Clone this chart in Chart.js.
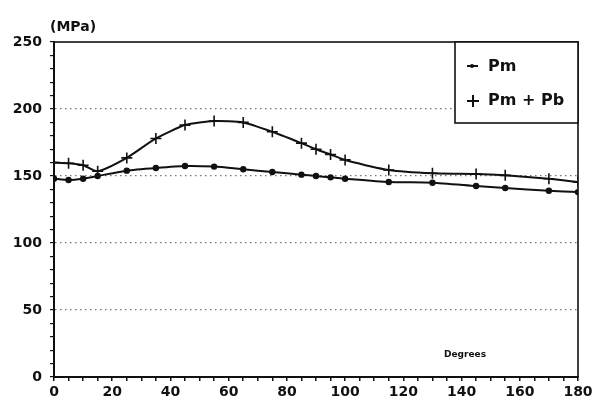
<!DOCTYPE html>
<html>
<head>
<meta charset="utf-8">
<script src="https://cdn.jsdelivr.net/npm/chart.js@4.4.1/dist/chart.umd.min.js"></script>
<style>
  html, body { margin: 0; padding: 0; background: #fff; }
  #grafico { width: 596px; height: 405px; }
</style>
</head>
<body>
<div id="grafico"><canvas id="line-chart" width="596" height="405"></canvas></div>
<script>
var Graus = [0, 5, 10, 15, 25, 35, 45, 55, 65, 75, 85, 90, 95, 100, 115, 130, 145, 155, 170, 180];
var Pm = [148, 147, 148, 150, 154, 156, 157.5, 157, 155, 153, 151, 150, 149, 148, 145.5, 145, 142.5, 141, 139, 138];
var PmPb = [160, 159.5, 158, 153.5, 163.5, 178, 188, 191, 190, 183, 174.5, 170, 166, 162, 154.5, 152, 151.5, 150.5, 148, 145.5];
var Rotulos = ["Pm", "Pm + Pb"];
var LinhasGrade = [50, 100, 150, 200];

var Fonte = "'DejaVu Sans', sans-serif";

function Pontos(ys) {
    var pts = [];
    for (var i = 0; i < Graus.length; i++) {
        pts[i] = { x: Graus[i], y: ys[i] };
    }
    return pts;
}

// moldura, legenda e textos soltos
var Extras = {
    id: 'extras',
    afterDraw: function (chart) {
        var ctx = chart.ctx;
        var a = chart.chartArea;
        ctx.save();
        ctx.strokeStyle = '#111';
        ctx.lineWidth = 1.6;
        ctx.strokeRect(a.left, a.top, a.right - a.left, a.bottom - a.top);

        // caixa da legenda
        var bx = 455, by = a.top, bw = a.right - 455, bh = 81;
        ctx.fillStyle = '#fff';
        ctx.fillRect(bx, by, bw, bh);
        ctx.strokeRect(bx, by, bw, bh);

        ctx.fillStyle = '#111';
        ctx.font = 'bold 16px ' + Fonte;
        ctx.textBaseline = 'middle';
        ctx.fillText(Rotulos[0], 488, 67);
        ctx.fillText(Rotulos[1], 488, 101);

        ctx.lineWidth = 2;
        ctx.beginPath();
        ctx.moveTo(467, 66); ctx.lineTo(478, 66);
        ctx.moveTo(467, 101); ctx.lineTo(479, 101);
        ctx.moveTo(473, 95); ctx.lineTo(473, 107);
        ctx.stroke();
        ctx.beginPath();
        ctx.arc(472, 66, 2, 0, Math.PI * 2);
        ctx.fill();

        ctx.font = 'bold 14px ' + Fonte;
        ctx.textBaseline = 'middle';
        ctx.fillText('(MPa)', 50, 27);

        ctx.font = 'bold 9px ' + Fonte;
        ctx.fillText('Degrees', 444, 355);
        ctx.restore();
    }
};

new Chart(document.getElementById("line-chart"), {
    type: 'line',
    data: {
        datasets: [{
            label: Rotulos[0],
            data: Pontos(Pm),
            borderColor: '#111',
            backgroundColor: '#111',
            borderWidth: 2,
            pointStyle: 'circle',
            pointRadius: 2.2,
            tension: 0.2,
            fill: false
        }, {
            label: Rotulos[1],
            data: Pontos(PmPb),
            borderColor: '#111',
            backgroundColor: '#111',
            borderWidth: 2,
            pointStyle: 'cross',
            pointRadius: 5.5,
            pointBorderWidth: 1.6,
            tension: 0.2,
            fill: false
        }]
    },
    options: {
        responsive: false,
        animation: false,
        layout: { padding: { top: 42, right: 18, left: 0, bottom: 0 } },
        plugins: {
            legend: { display: false },
            tooltip: { enabled: false }
        },
        scales: {
            x: {
                type: 'linear',
                min: 0,
                max: 180,
                afterFit: function (s) { s.height = 28; },
                border: { display: true, color: '#111', width: 2 },
                grid: { drawOnChartArea: false, tickColor: '#111', tickLength: 4, lineWidth: 1.5 },
                ticks: {
                    stepSize: 5,
                    autoSkip: false,
                    maxRotation: 0,
                    padding: 3,
                    color: '#111',
                    font: { family: Fonte, size: 14, weight: 'bold' },
                    callback: function (v) { return v % 20 === 0 ? v : ''; }
                }
            },
            y: {
                min: 0,
                max: 250,
                afterFit: function (s) { s.width = 54; },
                border: { display: true, color: '#111', width: 2, dash: [1.5, 3.5] },
                grid: {
                    color: function (c) {
                        return LinhasGrade.indexOf(c.tick.value) >= 0 ? '#777' : 'rgba(0,0,0,0)';
                    },
                    tickColor: '#111',
                    tickLength: 4,
                    lineWidth: 1.2
                },
                ticks: {
                    stepSize: 10,
                    autoSkip: false,
                    padding: 8,
                    color: '#111',
                    font: { family: Fonte, size: 14, weight: 'bold' },
                    callback: function (v) { return v % 50 === 0 ? v : ''; }
                }
            }
        }
    },
    plugins: [Extras]
});
</script>
</body>
</html>
